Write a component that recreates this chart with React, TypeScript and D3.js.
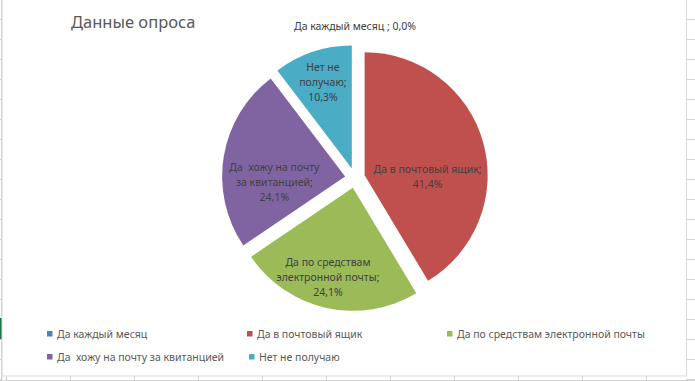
import React from "react";
import * as d3 from "d3";

const categories = [
  "Да каждый месяц",
  "Да в почтовый ящик",
  "Да по средствам электронной почты",
  "Да  хожу на почту за квитанцией",
  "Нет не получаю",
];
const values = [0, 12, 7, 7, 3];
const colors = ["#4F81BD", "#C0504D", "#9BBB59", "#8064A2", "#4BACC6"];
const labelLines = [
  ["Да каждый месяц ;"],
  ["Да в почтовый ящик;"],
  ["Да по средствам", "электронной почты;"],
  ["Да  хожу на почту", "за квитанцией;"],
  ["Нет не", "получаю;"],
];
const title = "Данные опроса";

// layout (not data)
const W = 695, H = 381;
const cx = 355, cy = 178, R = 123, explode = 10;
const labelPlace: [number, number][] = [
  [0, 142],
  [91, 63],
  [195.5, 93],
  [265, 71],
  [341.5, 91],
];
const legendPos: [number, number][] = [
  [47, 334],
  [247, 334],
  [447, 334],
  [47, 357],
  [249, 357],
];

const fmtPct = (v: number) => d3.format(".1%")(v).replace(".", ",");

export default function App() {
  const total = d3.sum(values);
  const pie = d3.pie<number>().value((d) => d).sort(null);
  const arcs = pie(values);
  const arcGen = d3.arc<d3.PieArcDatum<number>>().innerRadius(0).outerRadius(R);
  const font = "'Noto Sans', sans-serif";
  const rad = (deg: number) => (deg * Math.PI) / 180;

  const gridYs = d3.range(19.5, 381, 20);
  const gridXs = d3.range(6.5, 695, 64);

  return (
    <svg
      width={W}
      height={H}
      style={{ position: "absolute", left: 0, top: 0, background: "#fff" }}
    >
      {/* spreadsheet surroundings */}
      <line x1={1.5} y1={0} x2={1.5} y2={381} stroke="#c8c8c8" />
      {gridYs.map((y, i) => (
        <g key={"gy" + i}>
          <line x1={0} y1={y} x2={1.5} y2={y} stroke="#d0d0d0" />
          <line x1={686} y1={y} x2={695} y2={y} stroke="#d4d4d4" />
        </g>
      ))}
      {gridXs.map((x, i) => (
        <line key={"gx" + i} x1={x} y1={376} x2={x} y2={381} stroke="#d4d4d4" />
      ))}
      <line x1={0} y1={380.5} x2={695} y2={380.5} stroke="#d4d4d4" />
      <rect x={0} y={318} width={2.5} height={21} fill="#217346" />
      <rect x={2} y={-1} width={684.5} height={377} fill="#fff" stroke="#d9d9d9" />

      <text x={71} y={28} fontFamily={font} fontSize={16.5} fill="#595959">
        {title}
      </text>

      {arcs.map((a, i) => {
        const mid = (a.startAngle + a.endAngle) / 2;
        const ox = cx + explode * Math.sin(mid);
        const oy = cy - explode * Math.cos(mid);
        return (
          <path
            key={"s" + i}
            d={arcGen(a) || ""}
            transform={`translate(${ox},${oy})`}
            fill={colors[i]}
          />
        );
      })}

      {arcs.map((a, i) => {
        const mid = (a.startAngle + a.endAngle) / 2;
        const ox = cx + explode * Math.sin(mid);
        const oy = cy - explode * Math.cos(mid);
        const [ang, r] = labelPlace[i];
        const lx = ox + r * Math.sin(rad(ang));
        const ly = oy - r * Math.cos(rad(ang));
        const pct = fmtPct(values[i] / total);
        const lines =
          values[i] === 0
            ? [labelLines[i][0] + " " + pct]
            : [...labelLines[i], pct];
        const lh = 15;
        const y0 = ly - ((lines.length - 1) * lh) / 2;
        return (
          <text
            key={"l" + i}
            x={lx}
            textAnchor="middle"
            fontFamily={font}
            fontSize={10.5}
            fill="#404040"
            style={{ whiteSpace: "pre" }}
          >
            {lines.map((t, j) => (
              <tspan key={j} x={lx} y={y0 + j * lh} dy="0.35em">
                {t}
              </tspan>
            ))}
          </text>
        );
      })}

      {categories.map((c, i) => {
        const [x, y] = legendPos[i];
        return (
          <g key={"lg" + i}>
            <rect x={x} y={y - 3} width={5.5} height={5.5} fill={colors[i]} />
            <text
              x={x + 10}
              y={y}
              dy="0.35em"
              fontFamily={font}
              fontSize={10.5}
              fill="#595959"
              style={{ whiteSpace: "pre" }}
            >
              {c}
            </text>
          </g>
        );
      })}
    </svg>
  );
}
